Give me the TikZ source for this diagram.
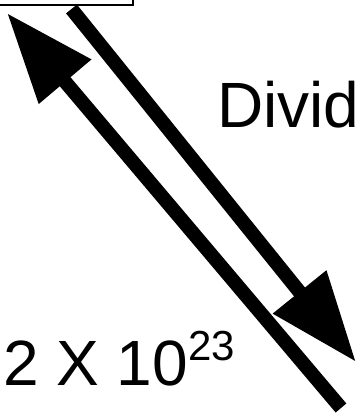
\documentclass[tikz,border=0pt]{standalone}
\usepackage{fontspec}
\setmainfont{Liberation Sans}
\usetikzlibrary{arrows.meta}
\begin{document}
\begin{tikzpicture}[x=1pt,y=-1pt,
  thickarrow/.style={line width=14pt, line cap=butt, -{Triangle[length=90pt 0, width=65pt 0]}},
  bigtext/.style={inner sep=0pt, anchor=base west, font=\fontsize{64}{70}\selectfont},
  boxline/.style={draw, line width=2pt, inner sep=0pt}]
\useasboundingbox (0,0) rectangle (359,414);
\clip (0,0) rectangle (359,414);
\node[boxline, minimum width=200pt, minimum height=60pt, anchor=south east] (box) at (134.3,6) {};
\coordinate (lt) at (7,13);
\coordinate (lb) at (341,408);
\coordinate (rt) at (71.5,9);
\coordinate (rb) at (356,362);
\draw[thickarrow] (lb) -- (lt);
\draw[thickarrow] (rt) -- (rb);
\node[bigtext] (divid) at (217,128) {Divid};
\node[bigtext] (num) at (3,385) {2 X 10\raisebox{25pt}{\fontsize{42}{46}\selectfont 23}};
\end{tikzpicture}
\end{document}
